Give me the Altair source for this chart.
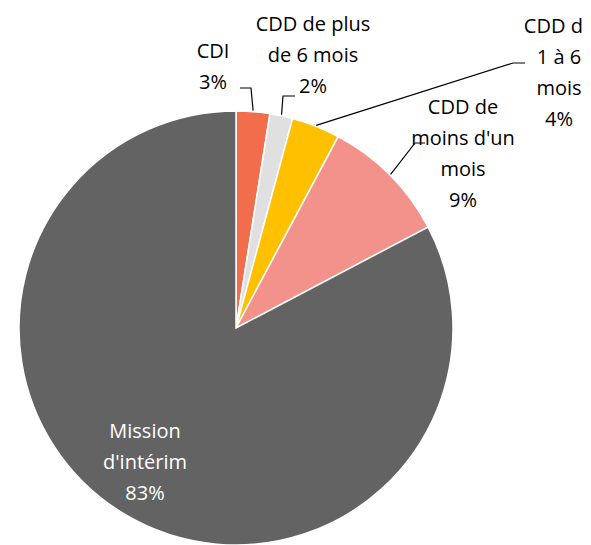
import math
import altair as alt
import pandas as pd

# ---- data ----
categories = ["CDI", "CDD de plus de 6 mois", "CDD de 1 à 6 mois",
              "CDD de moins d'un mois", "Mission d'intérim"]
values = [2.5, 1.7, 3.6, 9.5, 82.7]
pct_labels = ["3%", "2%", "4%", "9%", "83%"]
colors = ["#F26D4B", "#E0E0E0", "#FFC000", "#F2928A", "#636363"]

# ---- layout (not data) ----
W, H = 575, 537
CX, CY, R = 228, 320, 217
LH = 31
label_lines = {
    "CDI": ["CDI"],
    "CDD de plus de 6 mois": ["CDD de plus", "de 6 mois"],
    "CDD de 1 à 6 mois": ["CDD de", "1 à 6", "mois"],
    "CDD de moins d'un mois": ["CDD de", "moins d'un", "mois"],
    "Mission d'intérim": ["Mission", "d'intérim"],
}
label_pos = {  # centre x, first line y, text colour
    "CDI": (205, 44, "black"),
    "CDD de plus de 6 mois": (305, 17, "black"),
    "CDD de 1 à 6 mois": (551, 19, "black"),
    "CDD de moins d'un mois": (455, 100, "black"),
    "Mission d'intérim": (137, 424, "white"),
}
leader_start = {  # label-side end and elbow
    "CDI": [(232, 80), (243, 80)],
    "CDD de plus de 6 mois": [(287, 88), (275, 88)],
    "CDD de 1 à 6 mois": [(517, 55), (505, 55)],
    "CDD de moins d'un mois": [(417, 135), (407, 135)],
}

df = pd.DataFrame({"cat": categories, "value": values,
                   "order": list(range(len(categories)))})

# text rows
trows = []
for c, p in zip(categories, pct_labels):
    x0, y0, col = label_pos[c]
    lines = label_lines[c] + [p]
    for i, t in enumerate(lines):
        trows.append({"cat": c, "t": t, "px": x0, "py": y0 + i * LH, "col": col})
tdf = pd.DataFrame(trows)

# leader lines: end on the slice's mid-angle at the pie edge
total = sum(values)
lrows = []
cum = 0.0
for c, v in zip(categories, values):
    mid = (cum + v / 2) / total * 2 * math.pi
    cum += v
    if c not in leader_start:
        continue
    pts = leader_start[c] + [(CX + (R + 1) * math.sin(mid), CY - (R + 1) * math.cos(mid))]
    for k, (x, y) in enumerate(pts):
        lrows.append({"cat": c, "k": k, "px": x, "py": y})
ldf = pd.DataFrame(lrows)

pie = alt.Chart(df).mark_arc(radius=R, stroke="white", strokeWidth=1.5).encode(
    theta=alt.Theta("value:Q", stack=True),
    color=alt.Color("cat:N", scale=alt.Scale(domain=categories, range=colors), legend=None),
    order=alt.Order("order:Q"),
    x=alt.value(CX),
    y=alt.value(CY),
)

leaders = alt.Chart(ldf).mark_line(color="black", strokeWidth=1.2).encode(
    x=alt.X("px:Q", scale=None),
    y=alt.Y("py:Q", scale=None),
    detail="cat:N",
    order="k:Q",
)

texts = alt.Chart(tdf).mark_text(font="Open Sans", fontSize=20, align="center",
                                 baseline="middle").encode(
    x=alt.X("px:Q", scale=None),
    y=alt.Y("py:Q", scale=None),
    text="t:N",
    color=alt.Color("col:N", scale=None),
)

chart = alt.layer(pie, leaders, texts).properties(
    width=W, height=H, padding=0,
    autosize=alt.AutoSizeParams(type="none"),
).configure_view(stroke=None)

chart.save("out.html", embed_options={"renderer": "svg", "actions": False})
